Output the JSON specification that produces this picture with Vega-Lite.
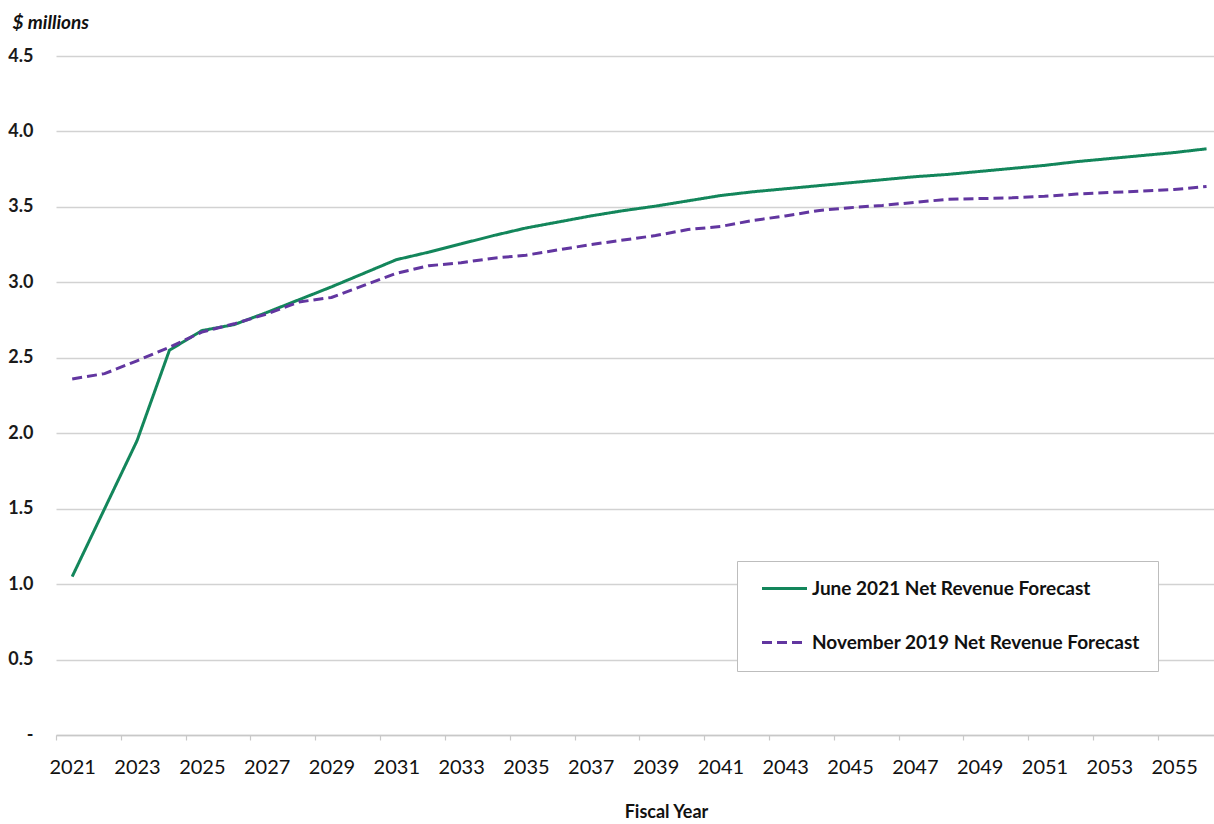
{
  "$schema": "https://vega.github.io/schema/vega-lite/v6.json",
  "width": 1158,
  "height": 679,
  "autosize": "none",
  "padding": {"left": 56, "top": 56, "right": 0, "bottom": 89},
  "background": "white",
  "config": {
    "view": {"stroke": null},
    "font": "Lato"
  },
  "data": {
    "values": [
      {"year": 2021, "series": "June 2021 Net Revenue Forecast", "value": 1.05},
      {"year": 2022, "series": "June 2021 Net Revenue Forecast", "value": 1.50},
      {"year": 2023, "series": "June 2021 Net Revenue Forecast", "value": 1.95},
      {"year": 2024, "series": "June 2021 Net Revenue Forecast", "value": 2.55},
      {"year": 2025, "series": "June 2021 Net Revenue Forecast", "value": 2.68},
      {"year": 2026, "series": "June 2021 Net Revenue Forecast", "value": 2.72},
      {"year": 2027, "series": "June 2021 Net Revenue Forecast", "value": 2.80},
      {"year": 2028, "series": "June 2021 Net Revenue Forecast", "value": 2.885},
      {"year": 2029, "series": "June 2021 Net Revenue Forecast", "value": 2.97},
      {"year": 2030, "series": "June 2021 Net Revenue Forecast", "value": 3.06},
      {"year": 2031, "series": "June 2021 Net Revenue Forecast", "value": 3.15},
      {"year": 2032, "series": "June 2021 Net Revenue Forecast", "value": 3.20},
      {"year": 2033, "series": "June 2021 Net Revenue Forecast", "value": 3.255},
      {"year": 2034, "series": "June 2021 Net Revenue Forecast", "value": 3.31},
      {"year": 2035, "series": "June 2021 Net Revenue Forecast", "value": 3.36},
      {"year": 2036, "series": "June 2021 Net Revenue Forecast", "value": 3.40},
      {"year": 2037, "series": "June 2021 Net Revenue Forecast", "value": 3.44},
      {"year": 2038, "series": "June 2021 Net Revenue Forecast", "value": 3.475},
      {"year": 2039, "series": "June 2021 Net Revenue Forecast", "value": 3.505},
      {"year": 2040, "series": "June 2021 Net Revenue Forecast", "value": 3.54},
      {"year": 2041, "series": "June 2021 Net Revenue Forecast", "value": 3.575},
      {"year": 2042, "series": "June 2021 Net Revenue Forecast", "value": 3.60},
      {"year": 2043, "series": "June 2021 Net Revenue Forecast", "value": 3.62},
      {"year": 2044, "series": "June 2021 Net Revenue Forecast", "value": 3.64},
      {"year": 2045, "series": "June 2021 Net Revenue Forecast", "value": 3.66},
      {"year": 2046, "series": "June 2021 Net Revenue Forecast", "value": 3.68},
      {"year": 2047, "series": "June 2021 Net Revenue Forecast", "value": 3.70},
      {"year": 2048, "series": "June 2021 Net Revenue Forecast", "value": 3.715},
      {"year": 2049, "series": "June 2021 Net Revenue Forecast", "value": 3.735},
      {"year": 2050, "series": "June 2021 Net Revenue Forecast", "value": 3.755},
      {"year": 2051, "series": "June 2021 Net Revenue Forecast", "value": 3.775},
      {"year": 2052, "series": "June 2021 Net Revenue Forecast", "value": 3.80},
      {"year": 2053, "series": "June 2021 Net Revenue Forecast", "value": 3.82},
      {"year": 2054, "series": "June 2021 Net Revenue Forecast", "value": 3.84},
      {"year": 2055, "series": "June 2021 Net Revenue Forecast", "value": 3.86},
      {"year": 2056, "series": "June 2021 Net Revenue Forecast", "value": 3.885},
      {"year": 2021, "series": "November 2019 Net Revenue Forecast", "value": 2.36},
      {"year": 2022, "series": "November 2019 Net Revenue Forecast", "value": 2.395},
      {"year": 2023, "series": "November 2019 Net Revenue Forecast", "value": 2.48},
      {"year": 2024, "series": "November 2019 Net Revenue Forecast", "value": 2.57},
      {"year": 2025, "series": "November 2019 Net Revenue Forecast", "value": 2.67},
      {"year": 2026, "series": "November 2019 Net Revenue Forecast", "value": 2.725},
      {"year": 2027, "series": "November 2019 Net Revenue Forecast", "value": 2.79},
      {"year": 2028, "series": "November 2019 Net Revenue Forecast", "value": 2.87},
      {"year": 2029, "series": "November 2019 Net Revenue Forecast", "value": 2.90},
      {"year": 2030, "series": "November 2019 Net Revenue Forecast", "value": 2.98},
      {"year": 2031, "series": "November 2019 Net Revenue Forecast", "value": 3.06},
      {"year": 2032, "series": "November 2019 Net Revenue Forecast", "value": 3.11},
      {"year": 2033, "series": "November 2019 Net Revenue Forecast", "value": 3.13},
      {"year": 2034, "series": "November 2019 Net Revenue Forecast", "value": 3.16},
      {"year": 2035, "series": "November 2019 Net Revenue Forecast", "value": 3.18},
      {"year": 2036, "series": "November 2019 Net Revenue Forecast", "value": 3.215},
      {"year": 2037, "series": "November 2019 Net Revenue Forecast", "value": 3.25},
      {"year": 2038, "series": "November 2019 Net Revenue Forecast", "value": 3.28},
      {"year": 2039, "series": "November 2019 Net Revenue Forecast", "value": 3.31},
      {"year": 2040, "series": "November 2019 Net Revenue Forecast", "value": 3.35},
      {"year": 2041, "series": "November 2019 Net Revenue Forecast", "value": 3.37},
      {"year": 2042, "series": "November 2019 Net Revenue Forecast", "value": 3.41},
      {"year": 2043, "series": "November 2019 Net Revenue Forecast", "value": 3.44},
      {"year": 2044, "series": "November 2019 Net Revenue Forecast", "value": 3.475},
      {"year": 2045, "series": "November 2019 Net Revenue Forecast", "value": 3.495},
      {"year": 2046, "series": "November 2019 Net Revenue Forecast", "value": 3.51},
      {"year": 2047, "series": "November 2019 Net Revenue Forecast", "value": 3.53},
      {"year": 2048, "series": "November 2019 Net Revenue Forecast", "value": 3.55},
      {"year": 2049, "series": "November 2019 Net Revenue Forecast", "value": 3.555},
      {"year": 2050, "series": "November 2019 Net Revenue Forecast", "value": 3.56},
      {"year": 2051, "series": "November 2019 Net Revenue Forecast", "value": 3.57},
      {"year": 2052, "series": "November 2019 Net Revenue Forecast", "value": 3.585},
      {"year": 2053, "series": "November 2019 Net Revenue Forecast", "value": 3.595},
      {"year": 2054, "series": "November 2019 Net Revenue Forecast", "value": 3.605},
      {"year": 2055, "series": "November 2019 Net Revenue Forecast", "value": 3.615},
      {"year": 2056, "series": "November 2019 Net Revenue Forecast", "value": 3.635}
    ]
  },
  "mark": {"type": "line", "strokeWidth": 3, "clip": false},
  "encoding": {
    "x": {
      "field": "year",
      "type": "quantitative",
      "scale": {"domain": [2020.5, 2056.23], "nice": false, "zero": false},
      "axis": {
        "title": "Fiscal Year",
        "titleFont": "Lato",
        "titleFontSize": 18,
        "titleFontWeight": "bold",
        "titleColor": "#111111",
        "titleX": 610,
        "titleY": 77,
        "titleBaseline": "middle",
        "values": [2021, 2023, 2025, 2027, 2029, 2031, 2033, 2035, 2037, 2039, 2041, 2043, 2045, 2047, 2049, 2051, 2053, 2055],
        "format": "d",
        "labelFont": "Lato",
        "labelFontSize": 20,
        "labelColor": "#111111",
        "labelPadding": 17,
        "labelOffset": 16.2,
        "grid": false,
        "domainColor": "#c8c8c8",
        "domainWidth": 1.5,
        "tickColor": "#c8c8c8",
        "tickSize": 5,
        "tickWidth": 1.2,
        "tickOffset": -16.2
      }
    },
    "y": {
      "field": "value",
      "type": "quantitative",
      "scale": {"domain": [0, 4.5], "nice": false},
      "axis": {
        "title": "$ millions",
        "titleFont": "Lato",
        "titleFontSize": 19,
        "titleFontWeight": "bold",
        "titleFontStyle": "italic",
        "titleColor": "#111111",
        "titleAngle": 0,
        "titleAlign": "left",
        "titleBaseline": "middle",
        "titleX": -44,
        "titleY": -34,
        "values": [0, 0.5, 1, 1.5, 2, 2.5, 3, 3.5, 4, 4.5],
        "labelExpr": "datum.value == 0 ? '-\u00a0\u00a0\u00a0' : format(datum.value, '.1f')",
        "labelFont": "Lato",
        "labelFontSize": 18,
        "labelFontWeight": "bold",
        "labelColor": "#1a1a1a",
        "labelAlign": "right",
        "labelPadding": 23,
        "ticks": false,
        "domain": false,
        "grid": true,
        "gridColor": "#d2d2d2",
        "gridWidth": 1.4
      }
    },
    "color": {
      "field": "series",
      "type": "nominal",
      "scale": {
        "domain": ["June 2021 Net Revenue Forecast", "November 2019 Net Revenue Forecast"],
        "range": ["#13865b", "#6236a0"]
      },
      "legend": {
        "title": null,
        "orient": "none",
        "legendX": 681,
        "legendY": 505,
        "direction": "vertical",
        "fillColor": "white",
        "strokeColor": "#bdbdbd",
        "padding": 18,
        "rowPadding": 34,
        "symbolType": "M-3,0H3",
        "symbolSize": 225,
        "symbolOffset": 20,
        "symbolStrokeWidth": 3,
        "symbolFillColor": "transparent",
        "labelFont": "Lato",
        "labelFontSize": 19,
        "labelFontWeight": "bold",
        "labelColor": "#111111",
        "labelOffset": 18,
        "labelLimit": 500
      }
    },
    "strokeDash": {
      "field": "series",
      "type": "nominal",
      "scale": {
        "domain": ["June 2021 Net Revenue Forecast", "November 2019 Net Revenue Forecast"],
        "range": [[1, 0], [10, 5]]
      },
      "legend": null
    }
  }
}
